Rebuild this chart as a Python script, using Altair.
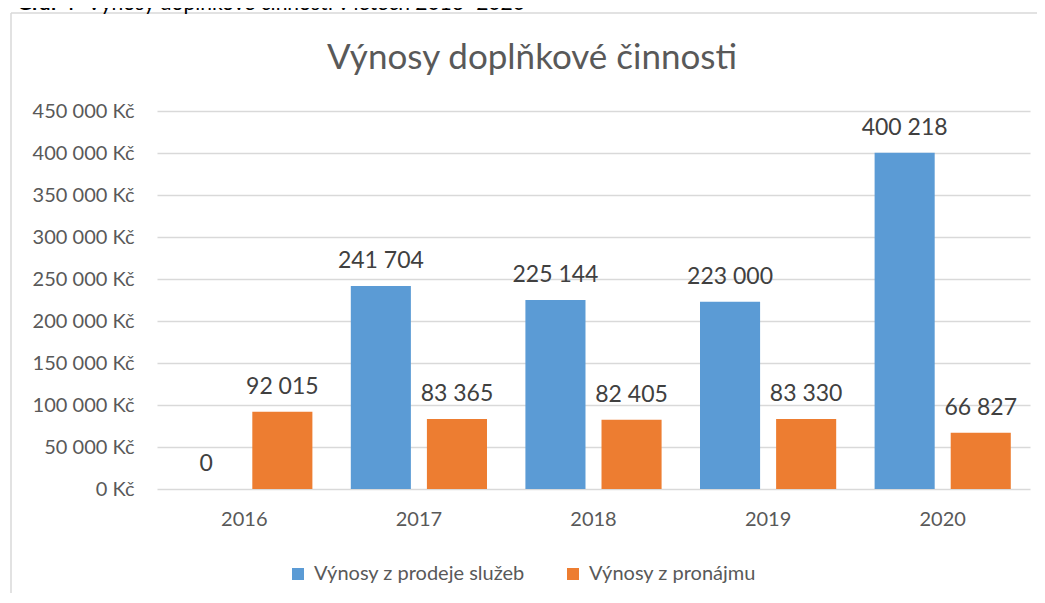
import altair as alt
import pandas as pd

years = ["2016", "2017", "2018", "2019", "2020"]
series = ["Výnosy z prodeje služeb", "Výnosy z pronájmu"]
sluzby = [0, 241704, 225144, 223000, 400218]
pronajem = [92015, 83365, 82405, 83330, 66827]
y_ticks = [0, 50000, 100000, 150000, 200000, 250000, 300000, 350000, 400000, 450000]
chart_title = "Výnosy doplňkové činnosti"
caption_bold = "Graf 4"
caption_rest = "Výnosy doplňkové činnosti v letech 2016–2020"

rows = []
for i, y in enumerate(years):
    rows.append({"rok": y, "serie": series[0], "hodnota": sluzby[i]})
    rows.append({"rok": y, "serie": series[1], "hodnota": pronajem[i]})
df = pd.DataFrame(rows)
df["label"] = df["hodnota"].map(lambda v: f"{v:,}".replace(",", " "))

FONT = "Lato"
GRAY = "#595959"
W, H = 873, 378

x_enc = alt.X(
    "rok:N", sort=years,
    scale=alt.Scale(paddingInner=0.22, paddingOuter=0.11),
    axis=alt.Axis(title=None, labelAngle=0, domain=False, ticks=False,
                  labelFontSize=20, labelColor=GRAY, labelFont=FONT,
                  labelPadding=20, grid=False),
)
xo_enc = alt.XOffset("serie:N", sort=series,
                     scale=alt.Scale(paddingInner=0.2105, paddingOuter=0))
y_enc = alt.Y(
    "hodnota:Q",
    scale=alt.Scale(domain=[0, 450000], nice=False),
    axis=alt.Axis(title=None, values=y_ticks, domain=False, ticks=False,
                  labelFontSize=20, labelColor=GRAY, labelFont=FONT,
                  labelPadding=23, gridColor="#D9D9D9", gridWidth=1.3,
                  labelExpr="replace(format(datum.value, ',d'), /,/g, ' ') + ' Kč'"),
)

bars = alt.Chart(df).mark_bar().encode(
    x=x_enc, xOffset=xo_enc, y=y_enc,
    color=alt.Color(
        "serie:N",
        scale=alt.Scale(domain=series, range=["#5B9BD5", "#ED7D31"]),
        legend=alt.Legend(
            title=None, orient="none", direction="horizontal",
            legendX=131, legendY=453, symbolType="square", symbolSize=144,
            symbolStrokeWidth=0, labelFontSize=20, labelFont=FONT,
            labelColor=GRAY, labelOffset=6, columnPadding=38, labelLimit=0,
        ),
    ),
)

labels = alt.Chart(df).mark_text(
    baseline="alphabetic", dy=-18, fontSize=23, font=FONT, color="#404040"
).encode(x=x_enc, xOffset=xo_enc, y=y_enc, text="label:N")

one = pd.DataFrame({"t": [chart_title]})
title = alt.Chart(one).mark_text(
    fontSize=35, font=FONT, color=GRAY, align="center", baseline="alphabetic"
).encode(x=alt.value(375), y=alt.value(-42), text="t:N")

cap1 = alt.Chart(pd.DataFrame({"t": [caption_bold]})).mark_text(
    fontSize=21, font=FONT, fontWeight="bold", color="#000000",
    align="left", baseline="alphabetic"
).encode(x=alt.value(-140), y=alt.value(-101), text="t:N")
cap2 = alt.Chart(pd.DataFrame({"t": [caption_rest]})).mark_text(
    fontSize=21, font=FONT, color="#000000", align="left", baseline="alphabetic"
).encode(x=alt.value(-70), y=alt.value(-101), text="t:N")

frame_left = alt.Chart(one).mark_rule(color="#D9D9D9", strokeWidth=1.5).encode(
    x=alt.value(-146), y=alt.value(-98), y2=alt.value(H + 110))
frame_top = alt.Chart(one).mark_rule(color="#D9D9D9", strokeWidth=1.5).encode(
    x=alt.value(-146), x2=alt.value(W + 20), y=alt.value(-98))

chart = alt.layer(frame_left, frame_top, bars, labels, title, cap1, cap2).properties(
    width=W, height=H,
    autosize=alt.AutoSizeParams(type="none"),
    padding={"left": 149, "top": 103, "right": 7, "bottom": 104},
).configure_view(stroke=None)

chart.save("out.html", embed_options={"renderer": "svg", "actions": False})
